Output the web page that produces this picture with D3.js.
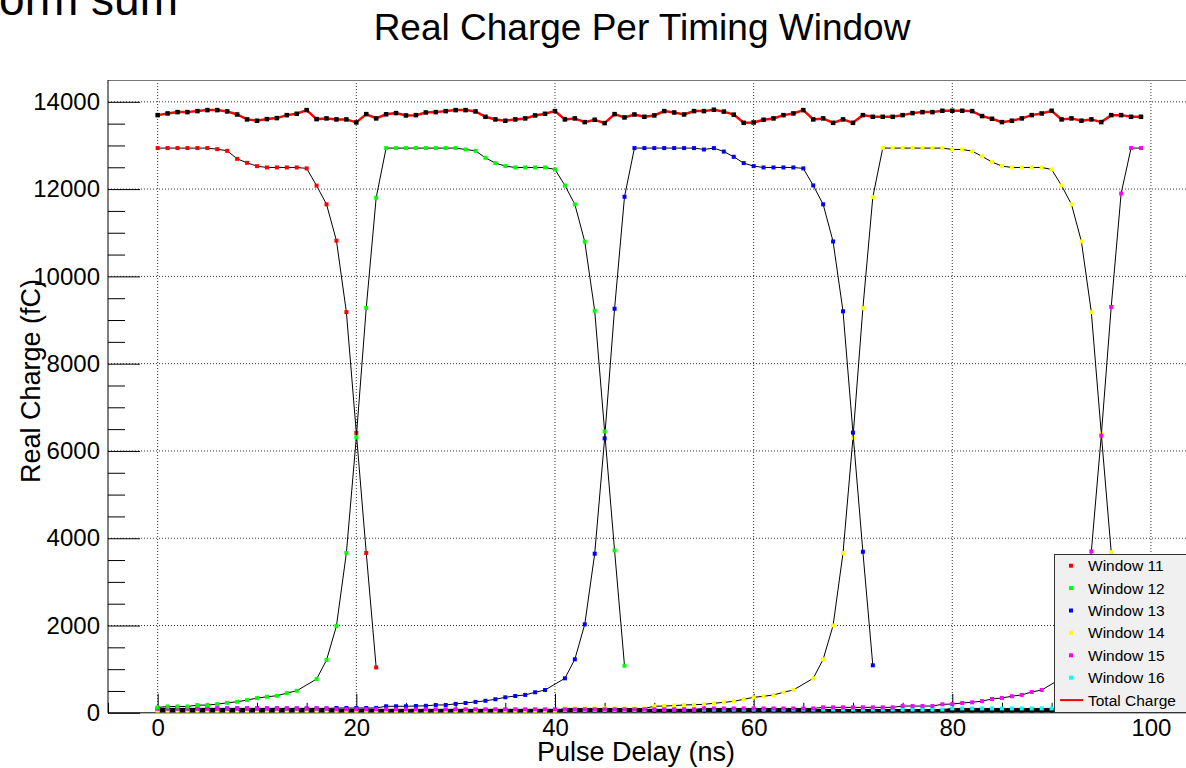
<!DOCTYPE html>
<html>
<head>
<meta charset="utf-8">
<script src="https://cdn.jsdelivr.net/npm/d3@7"></script>
<style>
  body { margin: 0; background: #fff; }
  svg { display: block; font-family: "Liberation Sans", Arial, Helvetica, sans-serif; }
</style>
</head>
<body>
<div class="chart"></div>
<script>
// Data (pulse delay in ns = index, charge in fC)
// null = no point drawn there (line goes straight past it)
var win11 = [12940, 12940, 12940, 12940, 12940, 12940, 12915, 12877, 12694, 12602, 12526, 12496, 12496, 12496, 12496, 12474,
  12080, 11651, 10818, 9181, 6415, 3663, 1039];

var win12 = [122, 145, 145, 145, 176, 176, 199, 229, 252, 291, 337, 367, 390, 451, 505, null,
  772, 1208, 1988, 3663, 6314, 9278, 11804, 12940,
  12940, 12940, 12940, 12940, 12940, 12940, 12940, 12908, 12877, 12717, 12596, 12527, 12496, 12496, 12496, 12496, 12450,
  12084, 11651, 10796, 9212, 6448, 3722, 1079];

var win13 = [100, 100, 100, 100, 100, 100, 100, 100, 100, 100, 100, 100, 100, 100, 100, 100, 100, 100,
  110, 110, 110, 110, 110, 150, 150,
  150, 155, 160, 180, 180, 205, 225, 250, 275, 310, 355, 385, 410, 470, 522, null,
  790, 1226, 2027, 3645, 6289, 9258, 11824, 12940,
  12940, 12940, 12940, 12940, 12940, 12940, 12908, 12940, 12860, 12740, 12596, 12527, 12496, 12496, 12496, 12496, 12474,
  12084, 11651, 10800, 9200, 6420, 3690, 1088];

var win14 = [45, 45, 45, 45, 45, 45, 45, 45, 45, 45, 45, 45, 45, 45, 45, 45, 45, 45, 45, 45,
  45, 45, 45, 45, 45, 45, 45, 45, 45, 45, 45, 45, 45, 45, 45, 45, 45, 45, 45, 45, 45,
  100, 100, 100, 100, 100, 100, 100, 100, 100,
  150, 155, 165, 180, 185, 195, 218, 240, 262, 309, 355, 378, 409, 470, 522, null,
  790, 1225, 2000, 3660, 6300, 9270, 11818, 12940,
  12940, 12940, 12940, 12940, 12940, 12940, 12908, 12908, 12870, 12750, 12620, 12527, 12496, 12496, 12496, 12496, 12450,
  12084, 11651, 10800, 9180, 6400, 3680, 1050];

var win15 = [100, 100, 100, 100, 100, 100, 100, 100, 100, 100, 100, 100, 100, 100, 100, 100, 100, 100,
  80, 80, 80, 80, 80, 80, 80, 80, 80, 80, 80, 80, 80, 80, 80, 80, 80, 80, 80, 80,
  80, 80, 80, 80, 80, 80, 80, 80, 80, 80, 80, 80, 80, 80, 80, 80, 80,
  100, 100, 100, 100, 100, 100, 100, 100, 100, 100, 100, 100,
  125, 125, 125, 125, 125, 125, 125, 125, 155, 155, 155, 155,
  195, 200, 225, 240, 268, 316, 340, 380, 410, 477, 522, null,
  790, 1225, 2000, 3700, 6350, 9300, 11900, 12940, 12940];

var win16 = [60, 60, 60, 60, 60, 60, 60, 60, 60, 60, 60, 60, 60, 60, 60, 60, 60, 60, 60, 60,
  60, 60, 60, 60, 60, 60, 60, 60, 60, 60, 60, 60, 60, 60, 60, 60, 60, 60, 60, 60,
  60, 60, 60, 60, 60, 60, 60, 60, 60, 60,
  75, 75, 75, 75, 75, 75, 75, 75, 75, 75, 75, 75, 75, 75, 75, 75, 75, 75, 75, 75,
  75, 75, 75, 75, 75, 75, 75, 75, 75, 75,
  100, 100, 100, 100, 100, 100, 100, 100, 100, 100, 100, 100, 100, 100, 100, 100, 100, 100, 100, 100];

// the other (unlisted) windows sitting at ~0, drawn with black markers
var otherWindows = [50, 50, 50, 50, 50, 50, 50, 50, 50, 50, 50, 50, 50, 50, 50, 50, 50, 50, 50, 50,
  50, 50, 50, 50, 50, 50, 50, 50, 50, 50, 50, 50, 50, 50, 50, 50, 50, 50, 50, 50,
  50, 50, 50, 50, 50, 50, 50, 50, 50, 50, 50, 50, 50, 50, 50, 50, 50, 50, 50, 50,
  50, 50, 50, 50, 50, 50, 50, 50, 50, 50, 50, 50, 50, 50, 50, 50, 50, 50, 50, 50,
  50, 50, 50, 50, 50, 50, 50, 50, 50, 50, 50, 50, 50, 50, 50, 50, 50, 50, 50, 50];

var totalCharge = [13695, 13734, 13764, 13764, 13787, 13810, 13810, 13780, 13710, 13597,
  13567, 13604, 13627, 13695, 13726, 13810, 13604, 13620, 13597, 13597,
  13527, 13718, 13620, 13714, 13741, 13688, 13695, 13756, 13764, 13787,
  13810, 13810, 13780, 13657, 13597, 13567, 13597, 13620, 13688, 13726,
  13787, 13597, 13620, 13535, 13589, 13512, 13718, 13642, 13710, 13657,
  13688, 13787, 13756, 13710, 13787, 13787, 13818, 13776, 13706, 13519,
  13527, 13589, 13620, 13695, 13734, 13810, 13597, 13620, 13519, 13597,
  13519, 13695, 13657, 13657, 13657, 13695, 13741, 13764, 13764, 13795,
  13795, 13795, 13787, 13673, 13612, 13535, 13567, 13620, 13695, 13734,
  13795, 13597, 13620, 13567, 13597, 13535, 13695, 13695, 13657, 13657];

var legendNames = ["Window 11", "Window 12", "Window 13", "Window 14", "Window 15", "Window 16", "Total Charge"];
var legendColors = ["#ff0000", "#00ff00", "#0000ff", "#ffff00", "#ff00ff", "#00ffff", "#ff0000"];

var xMajorTicks = [0, 20, 40, 60, 80, 100];
var xMinorTicks = [-5, 5, 10, 15, 25, 30, 35, 45, 50, 55, 65, 70, 75, 85, 90, 95, 105];
var yMajorTicks = [0, 2000, 4000, 6000, 8000, 10000, 12000, 14000];
var yMinorTicks = [500, 1000, 1500, 2500, 3000, 3500, 4500, 5000, 5500, 6500, 7000, 7500, 8500, 9000, 9500,
  10500, 11000, 11500, 12500, 13000, 13500, 14500];

var svgWidth = 1186;
var svgHeight = 768;

var margin = { top: 80, left: 108 };
var width = 1092.6;
var height = 632.8;

var svg = d3.select(".chart")
  .append("svg")
  .attr("width", svgWidth)
  .attr("height", svgHeight);

// titles
svg.append("text")
  .attr("x", 178)
  .attr("y", 15)
  .attr("text-anchor", "end")
  .attr("font-size", 46)
  .text("Waveform sum");

svg.append("text")
  .attr("x", 642)
  .attr("y", 40)
  .attr("text-anchor", "middle")
  .attr("font-size", 37)
  .text("Real Charge Per Timing Window");

var chartGroup = svg.append("g")
  .attr("transform", `translate(${margin.left}, ${margin.top})`);

var xScale = d3.scaleLinear().domain([-5, 105]).range([0, width]);
var yScale = d3.scaleLinear().domain([0, 14500]).range([height, 0]);

// grid
chartGroup.append("g").selectAll("line")
  .data(xMajorTicks)
  .enter()
  .append("line")
  .attr("x1", d => xScale(d)).attr("x2", d => xScale(d))
  .attr("y1", 0).attr("y2", height)
  .attr("stroke", "#333").attr("stroke-dasharray", "1,2");

chartGroup.append("g").selectAll("line")
  .data(yMajorTicks.filter(d => d > 0))
  .enter()
  .append("line")
  .attr("x1", 0).attr("x2", width)
  .attr("y1", d => yScale(d)).attr("y2", d => yScale(d))
  .attr("stroke", "#333").attr("stroke-dasharray", "1,2");

// axes (ticks point into the frame)
var xMinorAxis = d3.axisBottom(xScale).tickValues(xMinorTicks).tickSize(-10).tickFormat("");
var xMajorAxis = d3.axisBottom(xScale).tickValues(xMajorTicks).tickSize(-19).tickPadding(6.5);
var yMinorAxis = d3.axisLeft(yScale).tickValues(yMinorTicks).tickSize(-17).tickFormat("");
var yMajorAxis = d3.axisLeft(yScale).tickValues(yMajorTicks).tickSize(-32).tickPadding(8)
  .tickFormat(d3.format("d"));

[[xMinorAxis, true], [xMajorAxis, true], [yMinorAxis, false], [yMajorAxis, false]].forEach(function (a) {
  var g = chartGroup.append("g")
    .attr("transform", a[1] ? `translate(0, ${height})` : null)
    .call(a[0]);
  g.select(".domain").remove();
  g.selectAll("line").attr("stroke", "#000");
  g.selectAll("text").attr("font-size", 24).attr("fill", "#000")
    .attr("font-family", "Liberation Sans, Arial, sans-serif");
});

// frame
chartGroup.append("line").attr("x1", 0).attr("x2", width).attr("y1", 0.5).attr("y2", 0.5)
  .attr("stroke", "#777");
chartGroup.append("line").attr("x1", 0).attr("x2", width).attr("y1", height).attr("y2", height)
  .attr("stroke", "#000");
chartGroup.append("line").attr("x1", 0).attr("x2", 0).attr("y1", 0).attr("y2", height)
  .attr("stroke", "#000");

// axis titles
chartGroup.append("text")
  .attr("transform", `translate(${40 - margin.left}, ${381 - margin.top}) rotate(-90)`)
  .attr("text-anchor", "middle")
  .attr("font-size", 27)
  .text("Real Charge (fC)");

chartGroup.append("text")
  .attr("x", 636 - margin.left)
  .attr("y", 761 - margin.top)
  .attr("text-anchor", "middle")
  .attr("font-size", 27)
  .text("Pulse Delay (ns)");

// plot area
chartGroup.append("clipPath").attr("id", "frame")
  .append("rect").attr("width", width).attr("height", height);

var plot = chartGroup.append("g").attr("clip-path", "url(#frame)");

function toPoints(values, start) {
  return values.map((v, i) => ({ x: start + i, y: v })).filter(d => d.y !== null);
}

var line = d3.line().x(d => xScale(d.x)).y(d => yScale(d.y));

function drawSeries(values, start, markerColor, lineColor, lineWidth, size) {
  var pts = toPoints(values, start);
  plot.append("path")
    .datum(pts)
    .attr("d", line)
    .attr("fill", "none")
    .attr("stroke", lineColor)
    .attr("stroke-width", lineWidth);
  plot.append("g").selectAll("rect")
    .data(pts)
    .enter()
    .append("rect")
    .attr("x", d => xScale(d.x) - size / 2)
    .attr("y", d => yScale(d.y) - size / 2)
    .attr("width", size)
    .attr("height", size)
    .attr("fill", markerColor);
}

drawSeries(otherWindows, 0, "#000", "#000", 3, 4);
drawSeries(win16, 0, "#00ffff", "#000", 1, 4);
drawSeries(win14, 0, "#ffff00", "#000", 1, 4);
drawSeries(win13, 0, "#0000ff", "#000", 1, 4);
drawSeries(win15, 0, "#ff00ff", "#000", 1, 4);
drawSeries(win11, 0, "#ff0000", "#000", 1, 4);
drawSeries(win12, 0, "#00ff00", "#000", 1, 4);
drawSeries(totalCharge, 0, "#000", "#ff0000", 2.5, 4.5);

// legend
var legend = svg.append("g").attr("transform", "translate(1054, 554)");
legend.append("rect")
  .attr("x", 0.5).attr("y", 0.5)
  .attr("width", 200).attr("height", 158)
  .attr("fill", "#f0f0f0")
  .attr("stroke", "#333");

var rows = legend.selectAll("g.row")
  .data(legendNames)
  .enter()
  .append("g")
  .attr("class", "row")
  .attr("transform", (d, i) => `translate(0, ${11.7 + i * 22.4})`);

rows.each(function (d, i) {
  var r = d3.select(this);
  if (i < 6) {
    r.append("rect").attr("x", 15).attr("y", -2).attr("width", 4).attr("height", 4)
      .attr("fill", legendColors[i]);
  } else {
    r.append("line").attr("x1", 6).attr("x2", 29).attr("y1", 0).attr("y2", 0)
      .attr("stroke", legendColors[i]).attr("stroke-width", 2);
  }
  r.append("text").attr("x", 34).attr("y", 5.5).attr("font-size", 15.5).text(d);
});
</script>
</body>
</html>
